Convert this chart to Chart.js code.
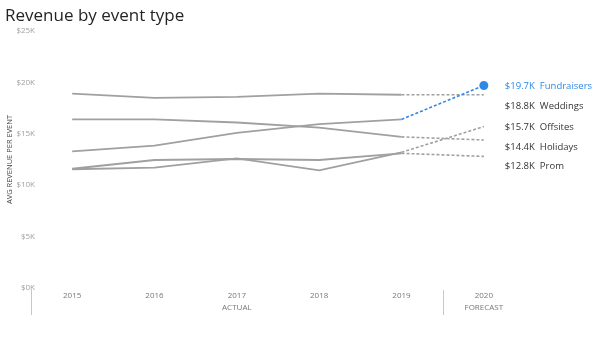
<!DOCTYPE html>
<html>
<head>
<meta charset="utf-8">
<script src="https://cdn.jsdelivr.net/npm/chart.js@4"></script>
<style>
  html, body { margin: 0; padding: 0; background: #fff; }
  #wrap { width: 602px; height: 339px; position: relative; }
</style>
</head>
<body>
<div id="wrap"><canvas id="revenueChart"></canvas></div>
<script>
    // Дані
    const years = ['2015', '2016', '2017', '2018', '2019', '2020'];
    const periodLabels = ['', '', 'ACTUAL', '', '', 'FORECAST'];
    const seriesNames = ['Fundraisers', 'Weddings', 'Offsites', 'Holidays', 'Prom'];
    const fundraisers = [13300, 13850, 15100, 15950, 16400, 19700];
    const weddings = [18900, 18500, 18600, 18900, 18800, 18800];
    const offsites = [11550, 11700, 12600, 11450, 13200, 15700];
    const holidays = [16400, 16400, 16100, 15600, 14700, 14400];
    const prom = [11600, 12450, 12550, 12450, 13100, 12800];
    const yTicks = [0, 5000, 10000, 15000, 20000, 25000];

    const seriesValues = [fundraisers, weddings, offsites, holidays, prom];
    const highlight = 'Fundraisers';
    const grey = '#a0a0a0';
    const blue = '#2f8ae6';
    const forecastIndex = years.length - 1;

    const fmtK = v => '$' + (v / 1000).toFixed(1) + 'K';

    const datasets = seriesNames.map((name, i) => ({
        label: name,
        data: seriesValues[i],
        borderColor: grey,
        borderWidth: 1.8,
        tension: 0,
        pointRadius: ctx => (name === highlight && ctx.dataIndex === forecastIndex) ? 3.6 : 0,
        pointBackgroundColor: blue,
        pointBorderColor: blue,
        pointHoverRadius: 0,
        segment: {
            borderDash: ctx => ctx.p1DataIndex === forecastIndex ? [3, 2] : undefined,
            borderColor: ctx => (ctx.p1DataIndex === forecastIndex && name === highlight) ? blue : grey,
            borderWidth: ctx => ctx.p1DataIndex === forecastIndex ? 1.6 : 1.8
        }
    }));

    // Заголовок, підписи осі Y, розділювачі і підписи справа
    const extras = {
        id: 'extras',
        afterDraw(chart) {
            const c = chart.ctx;
            const x = chart.scales.x, y = chart.scales.y;
            const area = chart.chartArea;
            c.save();
            c.fillStyle = '#252423';
            c.font = '17px "Open Sans"';
            c.textBaseline = 'alphabetic';
            c.textAlign = 'left';
            c.fillText('Revenue by event type', 5, 21);

            // підписи осі Y
            c.font = '8px "Open Sans"';
            c.fillStyle = '#a0a0a0';
            c.textAlign = 'right';
            c.textBaseline = 'middle';
            yTicks.forEach(v => c.fillText('$' + (v / 1000) + 'K', 35, y.getPixelForValue(v)));

            // вертикальні розділювачі
            const step = x.getPixelForValue(1) - x.getPixelForValue(0);
            c.strokeStyle = '#c8c8c8';
            c.lineWidth = 1;
            [0, forecastIndex].forEach(i => {
                const px = Math.round(x.getPixelForValue(i) - step / 2) + 0.5;
                c.beginPath();
                c.moveTo(px, area.bottom + 2);
                c.lineTo(px, area.bottom + 27);
                c.stroke();
            });

            // підписи справа
            const order = seriesNames.map((n, i) => ({ n, v: seriesValues[i][forecastIndex] }))
                .sort((a, b) => b.v - a.v);
            let prev = -Infinity;
            const lx = x.getPixelForValue(forecastIndex) + 21;
            c.font = '9.5px "Open Sans"';
            c.textAlign = 'left';
            order.forEach(o => {
                let py = Math.max(y.getPixelForValue(o.v) + 1, prev + 19.5);
                prev = py;
                const val = fmtK(o.v);
                c.fillStyle = o.n === highlight ? blue : '#333';
                c.fillText(val, lx, py);
                c.fillText(o.n, lx + c.measureText(val).width + 5, py);
            });
            c.restore();
        }
    };

    const config = {
        type: 'line',
        data: { labels: years, datasets: datasets },
        options: {
            responsive: true,
            maintainAspectRatio: false,
            animation: false,
            layout: { padding: { top: 31, right: 77, left: 0, bottom: 0 } },
            plugins: { legend: { display: false }, tooltip: { enabled: false } },
            scales: {
                x: {
                    offset: true,
                    grid: { display: false, drawTicks: false },
                    border: { display: false },
                    afterFit: s => { s.height = 51; },
                    ticks: {
                        color: '#777',
                        font: { size: 8, family: 'Open Sans', lineHeight: 1.5 },
                        padding: 2,
                        maxRotation: 0,
                        callback: (v, i) => periodLabels[i] ? [years[i], periodLabels[i]] : years[i]
                    }
                },
                y: {
                    min: 0,
                    max: 25000,
                    grid: { display: false, drawTicks: false },
                    border: { display: false },
                    afterFit: s => { s.width = 31; },
                    afterBuildTicks: s => { s.ticks = yTicks.map(v => ({ value: v })); },
                    ticks: { display: false },
                    title: {
                        display: true,
                        text: 'AVG REVENUE PER EVENT',
                        color: '#444',
                        font: { size: 7.5, family: 'Open Sans' },
                        padding: { top: 5, bottom: 0 }
                    }
                }
            }
        },
        plugins: [extras]
    };

    new Chart(document.getElementById('revenueChart').getContext('2d'), config);
</script>
</body>
</html>
